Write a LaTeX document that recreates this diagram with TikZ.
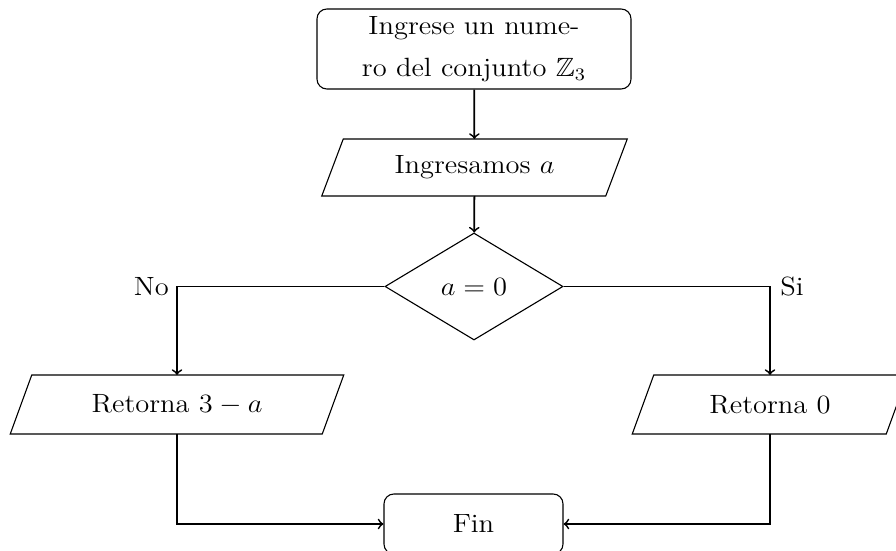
\documentclass[tikz,border=0pt]{standalone}
\usepackage{amssymb}
\usepackage{graphicx}
\usetikzlibrary{shapes.geometric}

% one drawing unit
\newcommand\upx{0.4545pt}
% horizontally widened text
\newcommand\wtxt[1]{\scalebox{1.08}[1]{#1}}
% half of the horizontal slant of the input/output boxes
\newcommand\slantoff{10.75*\upx}

\tikzset{
  every node/.style={font=\fontsize{12}{14.5}\selectfont},
  nodeline/.style={line width=0.5pt},
  termbox/.style={draw, nodeline, rectangle, rounded corners=4.5pt, inner sep=0pt, align=center},
  iobox/.style={rectangle, inner sep=0pt, outer sep=0pt},
  decbox/.style={draw, nodeline, diamond, inner sep=0pt,
                 minimum width=178*\upx, minimum height=107*\upx},
  link/.style={draw, line width=0.8pt, ->},
}

% parallelogram drawn around a rectangular node
\newcommand\drawio[1]{%
  \draw[nodeline] ([xshift=\slantoff]#1.north west) -- ([xshift=\slantoff]#1.north east)
    -- ([xshift=-\slantoff]#1.south east) -- ([xshift=-\slantoff]#1.south west) -- cycle;}

\begin{document}
\begin{tikzpicture}[x=\upx, y=-\upx]
  \useasboundingbox (0,0) rectangle (896,551);
  \clip (0,0) rectangle (896,551);

  % start
  \node[termbox, minimum width=314*\upx, minimum height=80*\upx] (start) at (474,49)
    {\wtxt{\begin{tabular}{@{}c@{}}Ingrese un nume-\\[4.5pt]ro del conjunto $\mathbb{Z}_3$\end{tabular}}};

  % read a
  \node[iobox, minimum width=284*\upx, minimum height=57*\upx] (read) at (474.5,167.5)
    {\wtxt{Ingresamos $a$}};
  \drawio{read}

  % decision
  \node[decbox] (dec) at (474,286.5) {\wtxt{$a=0$}};

  % outputs
  \node[iobox, minimum width=312*\upx, minimum height=59*\upx] (outL) at (177,404.5)
    {\wtxt{Retorna $3-a$}};
  \drawio{outL}
  \node[iobox, minimum width=254*\upx, minimum height=59*\upx] (outR) at (770,404.5)
    {\wtxt{Retorna $0$}};
  \drawio{outR}

  % end
  \node[termbox, minimum width=179*\upx, minimum height=60*\upx] (fin) at (473.5,524)
    {\wtxt{Fin}};

  % connectors
  \draw[link] (start) -- (read);
  \draw[link] (read) -- (dec);
  \draw[link] (dec.west) -| node[pos=0.5, left] {\wtxt{No}} (outL.north);
  \draw[link] (dec.east) -| node[pos=0.5, right, xshift=1pt] {\wtxt{Si}} (outR.north);
  \draw[link] (outL.south) |- (fin.west);
  \draw[link] (outR.south) |- (fin.east);
\end{tikzpicture}
\end{document}
